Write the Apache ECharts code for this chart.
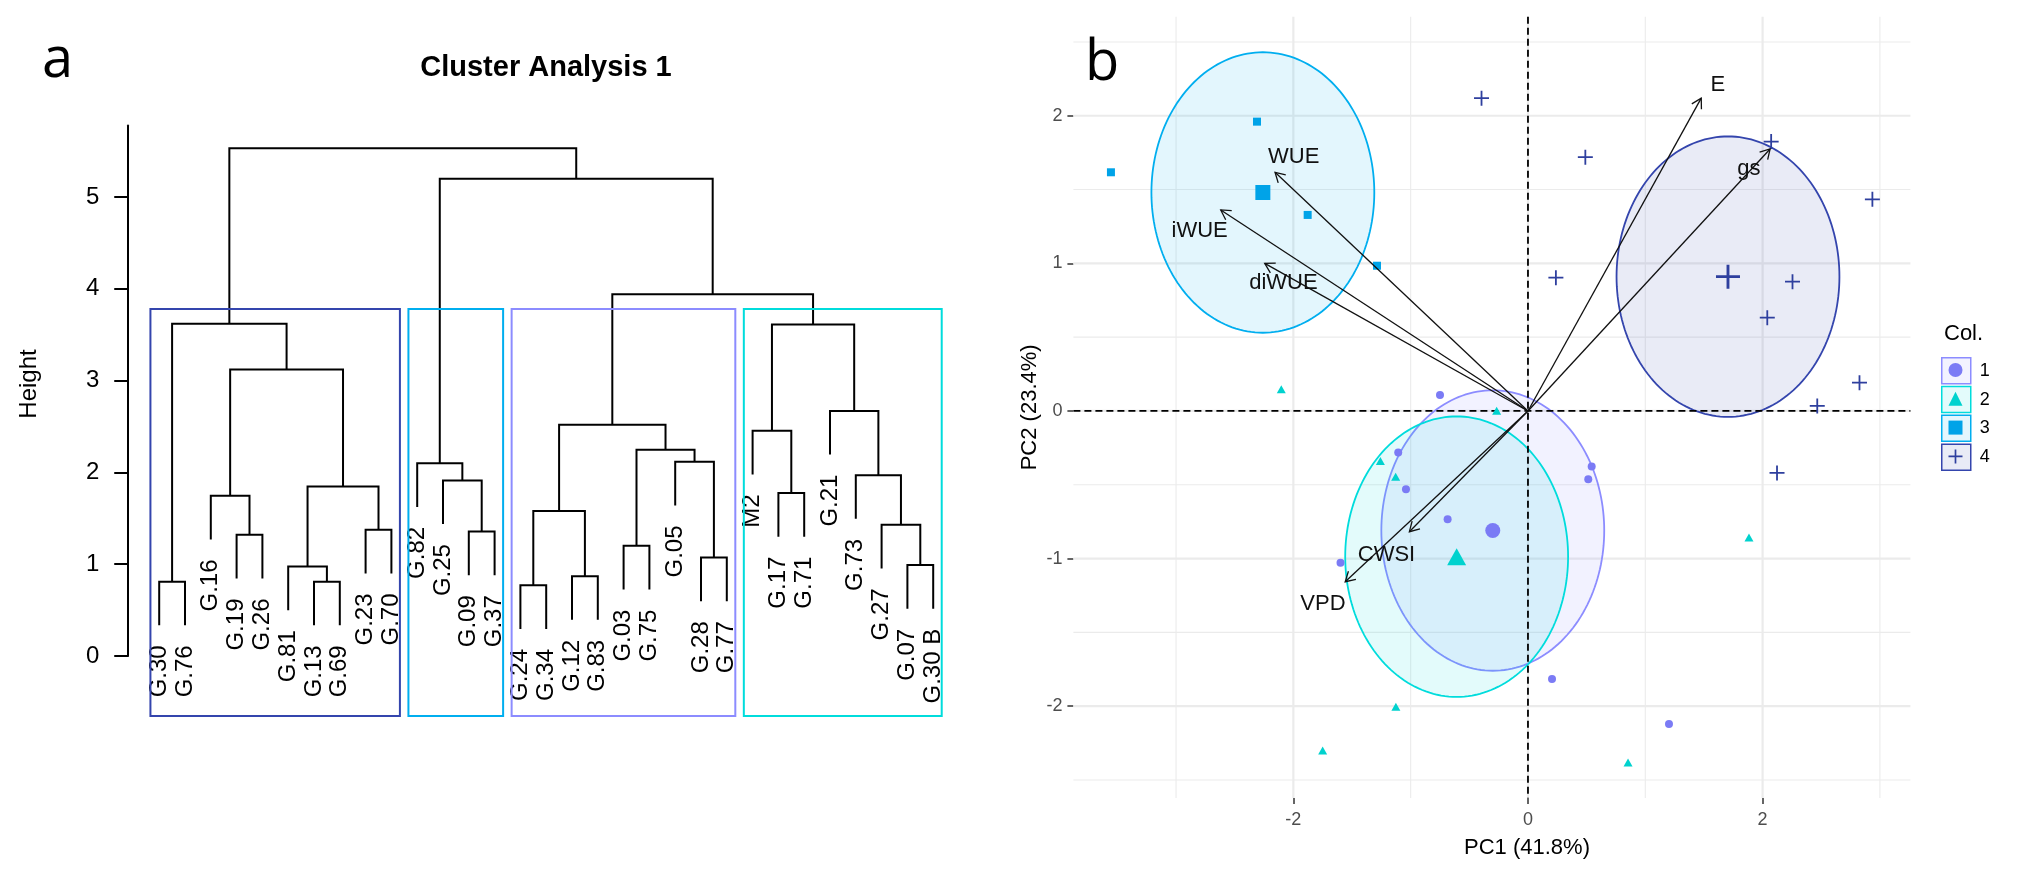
<!DOCTYPE html>
<html><head><meta charset="utf-8">
<script src="https://cdn.jsdelivr.net/npm/echarts@6.0.0/dist/echarts.min.js"></script>
<style>html,body{margin:0;padding:0;background:#fff}#c{width:2017px;height:871px}</style>
</head><body><div id="c"></div>
<script>
// ---------------- DATA ----------------
// Panel a: hierarchical clustering (leaf order as plotted)
const leafLabels = ["G.30","G.76","G.16","G.19","G.26","G.81","G.13","G.69","G.23","G.70",
  "G.82","G.25","G.09","G.37",
  "G.24","G.34","G.12","G.83","G.03","G.75","G.05","G.28","G.77",
  "M2","G.17","G.71","G.21","G.73","G.27","G.07","G.30 B"];
// R-style merge table: negative = leaf (1-based position), positive = earlier merge (1-based)
const mergeLeft   = [-1,-4,-3,-7,-6,-9, 5, 3, 1,-13,-12,-11,-15,-17,13,-19,-22,-21,16,15,-25,-24,-30,-29,-28,-27,22,20,12, 9];
const mergeRight  = [-2,-5, 2,-8, 4,-10,6, 7, 8,-14, 10, 11,-16,-18,14,-20,-23, 17,18,19,-26, 21,-31, 23, 24, 25,26,27,28,29];
const mergeHeight = [0.81,1.32,1.745,0.81,0.975,1.375,1.847,3.12,3.62,1.356,1.913,2.10,0.77,0.87,1.58,1.20,1.073,2.116,2.247,2.52,1.776,2.454,0.99,1.43,1.97,2.67,3.61,3.94,5.20,5.53];
const clusterSizes = [10, 4, 9, 8];
const clusterGroup = [4, 3, 1, 2];
const heightTicks = [0, 1, 2, 3, 4, 5];

// Panel b: PCA biplot
const groupNames = ["1", "2", "3", "4"];
const g1x = [-0.75,-1.106,-1.04,-0.685,0.543,0.514,-1.598,0.205,1.202];
const g1y = [0.108,-0.282,-0.53,-0.734,-0.377,-0.463,-1.028,-1.816,-2.12];
const g2x = [-2.103,-0.267,-1.258,-1.128,-1.126,-1.75,1.884,0.853];
const g2y = [0.147,0.002,-0.339,-0.445,-2.003,-2.30,-0.857,-2.382];
const g3x = [-3.555,-2.31,-1.878,-1.287];
const g3y = [1.617,1.96,1.328,0.984];
const g4x = [-0.396,0.489,2.073,2.936,0.238,2.255,2.04,2.826,2.466,2.123];
const g4y = [2.119,1.719,1.825,1.434,0.903,0.876,0.632,0.192,0.034,-0.42];
const centroidX = [-0.30, -0.608, -2.26, 1.705];
const centroidY = [-0.81, -0.987, 1.48, 0.91];
const ellipseLevel = 0.95;
const varNames  = ["E","gs","WUE","iWUE","diWUE","CWSI","VPD"];
const varX      = [1.477, 2.064, -2.156, -2.619, -2.244, -1.011, -1.558];
const varY      = [2.119, 1.775, 1.617, 1.362, 1.0, -0.818, -1.157];
const varLabelX = [1.619, 1.884, -1.997, -2.799, -2.085, -1.206, -1.748];
const varLabelY = [2.208, 1.637, 1.723, 1.222, 0.867, -0.978, -1.308];
const pc1Ticks = [-2, 0, 2];
const pc2Ticks = [-2, -1, 0, 1, 2];
const pc1Minor = [-3, -1, 1, 3];
const pc2Minor = [-2.5, -1.5, -0.5, 0.5, 1.5, 2.5];

// ---------------- STYLE ----------------
const FONT = '"Liberation Sans", Arial, sans-serif';
const pointCol = ['#7B7BF5', '#00D2CE', '#00A3E8', '#2E3F9E'];
const lineCol  = ['#8C8CFF', '#00DCDC', '#00AEEF', '#3445AD'];
function rgba(hex, a){const n=parseInt(hex.slice(1),16);return 'rgba('+(n>>16&255)+','+(n>>8&255)+','+(n&255)+','+a+')';}
const fillCol = lineCol.map(c => rgba(c, 0.11));
const PLUS = 'path://M44,0H56V44H100V56H56V100H44V56H0V44H44Z';
const groupSymbol = ['circle', 'triangle', 'rect', PLUS];
const smallSize = [8, [9, 8], 8, 15];
const bigSize = [15, [19, 17], 15, 24];

// ---------------- DERIVED (dendrogram geometry) ----------------
const mergePos = [];
const segs = [];
const leafEnd = new Array(leafLabels.length).fill(0);
const maxH = Math.max(...mergeHeight), minH = Math.min(...mergeHeight);
const hang = 0.1 * (maxH - minH);
for (let k = 0; k < mergeLeft.length; k++) {
  const a = mergeLeft[k], b = mergeRight[k], h = mergeHeight[k];
  const xa = a < 0 ? -a : mergePos[a - 1];
  const xb = b < 0 ? -b : mergePos[b - 1];
  const ha = a < 0 ? h - hang : mergeHeight[a - 1];
  const hb = b < 0 ? h - hang : mergeHeight[b - 1];
  if (a < 0) leafEnd[-a - 1] = h - hang;
  if (b < 0) leafEnd[-b - 1] = h - hang;
  mergePos.push((xa + xb) / 2);
  segs.push([xa, ha, xb, hb, h]);
}
const sortedH = mergeHeight.slice().sort((p, q) => q - p);
const kc = clusterSizes.length;
const boxTop = (sortedH[kc - 2] + sortedH[kc - 1]) / 2;
const dendroBottom = -0.654; // bottom of plotting region
const boxes = [];
let cum = 0;
clusterSizes.forEach((s, j) => {
  boxes.push([cum + 0.66, cum + s + 0.33, boxTop, dendroBottom, clusterGroup[j] - 1]);
  cum += s;
});

const groupsX = [g1x, g2x, g3x, g4x], groupsY = [g1y, g2y, g3y, g4y];

// ---------------- CHART ----------------
const chart = echarts.init(document.getElementById('c'), null, {renderer: 'canvas', width: 2017, height: 871});

const series = [];
// dendrogram links
series.push({
  type: 'custom', xAxisIndex: 0, yAxisIndex: 0, clip: false, z: 2, silent: true,
  data: segs,
  renderItem(params, api) {
    const p = [api.coord([api.value(0), api.value(1)]), api.coord([api.value(0), api.value(4)]),
               api.coord([api.value(2), api.value(4)]), api.coord([api.value(2), api.value(3)])];
    return {type: 'polyline', shape: {points: p}, style: {stroke: '#000', lineWidth: 2, fill: null}};
  }
});
// leaf labels
series.push({
  type: 'custom', xAxisIndex: 0, yAxisIndex: 0, clip: false, z: 2, silent: true,
  data: leafLabels.map((l, i) => [i + 1, leafEnd[i]]),
  renderItem(params, api) {
    const p = api.coord([api.value(0), api.value(1)]);
    return {type: 'text', x: p[0], y: p[1] + 20, rotation: Math.PI / 2,
      style: {text: leafLabels[params.dataIndex], x: 0, y: 0, align: 'right', verticalAlign: 'middle',
        textAlign: 'right', textVerticalAlign: 'middle', fontSize: 24, fontFamily: FONT, fill: '#000'}};
  }
});
// cluster rectangles
series.push({
  type: 'custom', xAxisIndex: 0, yAxisIndex: 0, clip: false, z: 3, silent: true,
  data: boxes,
  renderItem(params, api) {
    const p1 = api.coord([api.value(0), api.value(2)]);
    const p2 = api.coord([api.value(1), api.value(3)]);
    return {type: 'rect', shape: {x: p1[0], y: p1[1], width: p2[0] - p1[0], height: p2[1] - p1[1]},
      style: {stroke: lineCol[api.value(4)], lineWidth: 2, fill: null}};
  }
});
// PCA grid lines
series.push({
  type: 'custom', xAxisIndex: 1, yAxisIndex: 1, clip: false, z: 1, silent: true,
  data: [[0, 0]],
  renderItem(params, api) {
    const cs = params.coordSys;
    const ch = [];
    const v = (val, w) => { const x = api.coord([val, 0])[0]; ch.push({type: 'line', shape: {x1: x, y1: cs.y, x2: x, y2: cs.y + cs.height}, style: {stroke: '#EBEBEB', lineWidth: w}}); };
    const h = (val, w) => { const y = api.coord([0, val])[1]; ch.push({type: 'line', shape: {x1: cs.x, y1: y, x2: cs.x + cs.width, y2: y}, style: {stroke: '#EBEBEB', lineWidth: w}}); };
    pc1Minor.forEach(x => v(x, 1.1)); pc2Minor.forEach(y => h(y, 1.1));
    pc1Ticks.forEach(x => v(x, 2.2)); pc2Ticks.forEach(y => h(y, 2.2));
    return {type: 'group', children: ch};
  }
});
// ellipses
series.push({
  type: 'custom', xAxisIndex: 1, yAxisIndex: 1, clip: false, z: 2, silent: true,
  data: centroidX.map((x, i) => [x, centroidY[i], i]),
  renderItem(params, api) {
    const cx = api.value(0), cy = api.value(1), gi = api.value(2);
    const pts = [];
    for (let k = 0; k <= 180; k++) {
      const t = 2 * Math.PI * k / 180;
      pts.push(api.coord([cx + ellipseLevel * Math.cos(t), cy + ellipseLevel * Math.sin(t)]));
    }
    return {type: 'polygon', shape: {points: pts}, style: {fill: fillCol[gi], stroke: lineCol[gi], lineWidth: 1.8}};
  }
});
// dashed zero lines
series.push({
  type: 'custom', xAxisIndex: 1, yAxisIndex: 1, clip: false, z: 3, silent: true,
  data: [[0, 0]],
  renderItem(params, api) {
    const cs = params.coordSys;
    const o = api.coord([0, 0]);
    const st = {stroke: '#000', lineWidth: 1.8, lineDash: [7, 4]};
    return {type: 'group', children: [
      {type: 'line', shape: {x1: o[0], y1: cs.y, x2: o[0], y2: cs.y + cs.height}, style: st},
      {type: 'line', shape: {x1: cs.x, y1: o[1], x2: cs.x + cs.width, y2: o[1]}, style: st}
    ]};
  }
});
// points
groupNames.forEach((n, i) => {
  series.push({
    name: n, type: 'scatter', xAxisIndex: 1, yAxisIndex: 1, z: 4, silent: true,
    symbol: groupSymbol[i], symbolSize: smallSize[i],
    itemStyle: {color: pointCol[i], opacity: 1},
    data: groupsX[i].map((x, k) => [x, groupsY[i][k]])
  });
});
groupNames.forEach((n, i) => {
  series.push({
    name: 'centroid ' + n, type: 'scatter', xAxisIndex: 1, yAxisIndex: 1, z: 4, silent: true,
    symbol: groupSymbol[i], symbolSize: bigSize[i],
    itemStyle: {color: pointCol[i], opacity: 1},
    data: [[centroidX[i], centroidY[i]]]
  });
});
// arrows
series.push({
  type: 'custom', xAxisIndex: 1, yAxisIndex: 1, clip: false, z: 5, silent: true,
  data: varX.map((x, i) => [x, varY[i]]),
  renderItem(params, api) {
    const o = api.coord([0, 0]), t = api.coord([api.value(0), api.value(1)]);
    const ang = Math.atan2(t[1] - o[1], t[0] - o[0]);
    const L = 11, a = Math.PI / 6;
    const p1 = [t[0] - L * Math.cos(ang - a), t[1] - L * Math.sin(ang - a)];
    const p2 = [t[0] - L * Math.cos(ang + a), t[1] - L * Math.sin(ang + a)];
    return {type: 'group', children: [
      {type: 'line', shape: {x1: o[0], y1: o[1], x2: t[0], y2: t[1]}, style: {stroke: '#111', lineWidth: 1.3}},
      {type: 'polyline', shape: {points: [p1, t, p2]}, style: {stroke: '#111', lineWidth: 1.3, fill: null}}
    ]};
  }
});
// variable labels
series.push({
  type: 'custom', xAxisIndex: 1, yAxisIndex: 1, clip: false, z: 6, silent: true,
  data: varLabelX.map((x, i) => [x, varLabelY[i]]),
  renderItem(params, api) {
    const p = api.coord([api.value(0), api.value(1)]);
    return {type: 'text', x: p[0], y: p[1],
      style: {text: varNames[params.dataIndex], x: 0, y: 0, align: 'center', verticalAlign: 'middle',
        textAlign: 'center', textVerticalAlign: 'middle', fontSize: 22, fontFamily: FONT, fill: '#111'}};
  }
});

const option = {
  animation: false,
  backgroundColor: '#ffffff',
  grid: [
    {left: 128.24, top: 125.4, width: 835.92, height: 530.6},
    {left: 1073.4, top: 16.7, width: 837, height: 781.3}
  ],
  xAxis: [
    {gridIndex: 0, type: 'value', min: -0.2, max: 32.2, show: false},
    {gridIndex: 1, type: 'value', min: -3.875, max: 3.26,
      axisLine: {show: false, onZero: false},
      axisTick: {show: true, customValues: pc1Ticks, length: 6, lineStyle: {color: '#333', width: 1.5}},
      axisLabel: {customValues: pc1Ticks, color: '#4D4D4D', fontSize: 18, fontFamily: FONT, margin: 13},
      splitLine: {show: false}}
  ],
  yAxis: [
    {gridIndex: 0, type: 'value', min: 0, max: 5.78,
      axisLine: {show: true, onZero: false, lineStyle: {color: '#000', width: 2}},
      axisTick: {show: true, customValues: heightTicks, length: 14, lineStyle: {color: '#000', width: 2}},
      axisLabel: {customValues: heightTicks, fontSize: 24, color: '#000', margin: 29, fontFamily: FONT},
      splitLine: {show: false}},
    {gridIndex: 1, type: 'value', min: -2.622, max: 2.671,
      axisLine: {show: false, onZero: false},
      axisTick: {show: true, customValues: pc2Ticks, length: 6, lineStyle: {color: '#333', width: 1.5}},
      axisLabel: {customValues: pc2Ticks, color: '#4D4D4D', fontSize: 18, fontFamily: FONT, margin: 11},
      splitLine: {show: false},
      name: 'PC2 (23.4%)', nameLocation: 'middle', nameGap: 32,
      nameTextStyle: {fontSize: 22, color: '#000', fontFamily: FONT}}
  ],
  legend: [
    {orient: 'vertical', left: 1941, top: 357, itemWidth: 29, itemHeight: 26, itemGap: 1.3, padding: 0,
      selectedMode: false,
      textStyle: {fontSize: 18, color: '#000', fontFamily: FONT, padding: [0, 0, 0, 4]},
      data: groupNames.map((n, i) => ({name: n, icon: 'rect',
        itemStyle: {color: fillCol[i], borderColor: lineCol[i], borderWidth: 1.5}}))},
    {orient: 'vertical', left: 1948.5, top: 363, itemWidth: 14, itemHeight: 14, itemGap: 14.8, padding: 0,
      selectedMode: false, formatter: () => '',
      textStyle: {fontSize: 8, color: 'rgba(0,0,0,0)'},
      data: groupNames.map((n, i) => ({name: n, icon: groupSymbol[i],
        itemStyle: {color: pointCol[i], borderWidth: 0}}))}
  ],
  graphic: [
    {type: 'text', x: 42, y: 61, style: {text: 'a', fontSize: 56, fontFamily: '"Open Sans", sans-serif', fill: '#000', align: 'left', verticalAlign: 'middle'}},
    {type: 'text', x: 1085, y: 64, z: 100, style: {text: 'b', fontSize: 56, fontFamily: '"Open Sans", sans-serif', fill: '#000', align: 'left', verticalAlign: 'middle'}},
    {type: 'text', x: 546, y: 68, style: {text: 'Cluster Analysis 1', fontSize: 29, fontWeight: 'bold', fontFamily: FONT, fill: '#000', align: 'center', verticalAlign: 'middle'}},
    {type: 'text', x: 29, y: 384, rotation: Math.PI / 2, style: {text: 'Height', fontSize: 24, fontFamily: FONT, fill: '#000', align: 'center', verticalAlign: 'middle'}},
    {type: 'text', x: 1944, y: 334, style: {text: 'Col.', fontSize: 22, fontFamily: FONT, fill: '#000', align: 'left', verticalAlign: 'middle'}},
    {type: 'text', x: 1527, y: 848, style: {text: 'PC1 (41.8%)', fontSize: 22, fontFamily: FONT, fill: '#000', align: 'center', verticalAlign: 'middle'}}
  ],
  series: series
};
chart.setOption(option);
</script>
</body></html>
